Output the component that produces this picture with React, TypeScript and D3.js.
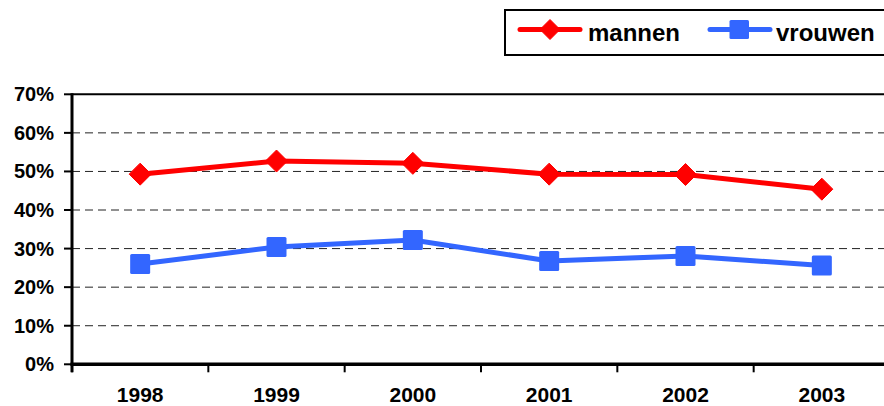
import React from "react";
import * as d3 from "d3";

const years = ["1998", "1999", "2000", "2001", "2002", "2003"];
const mannen = [0.493, 0.527, 0.521, 0.493, 0.492, 0.454];
const vrouwen = [0.26, 0.304, 0.322, 0.268, 0.281, 0.256];
const yTicks = [0, 0.1, 0.2, 0.3, 0.4, 0.5, 0.6, 0.7];
const seriesNames = ["mannen", "vrouwen"];

const W = 884;
const H = 406;
const left = 72;
const right = 890;
const top = 94.3;
const bottom = 364.3;
const RED = "#FF0000";
const BLUE = "#3366FF";
const FONT = "'Liberation Sans', Arial, sans-serif";

export default function App() {
  const x = d3.scaleBand<string>().domain(years).range([left, right]).paddingInner(0).paddingOuter(0);
  const cx = (d: string) => (x(d) as number) + x.bandwidth() / 2;
  const y = d3.scaleLinear().domain([0, 0.7]).range([bottom, top]);
  const line = d3
    .line<number>()
    .x((_, i) => cx(years[i]))
    .y((v) => y(v));

  const boundaries = [...years.map((d) => x(d) as number), right];

  const diamond = (px: number, py: number, r: number) =>
    `M${px},${py - r}L${px + r},${py}L${px},${py + r}L${px - r},${py}Z`;

  return (
    <svg
      width={W}
      height={H}
      style={{ position: "absolute", left: 0, top: 0, background: "#fff" }}
      fontFamily={FONT}
    >
      <rect x={0} y={0} width={W} height={H} fill="#fff" />
      {yTicks.slice(1, -1).map((t) => (
        <line
          key={t}
          x1={left}
          x2={W}
          y1={y(t)}
          y2={y(t)}
          stroke="#222"
          strokeWidth={1}
          strokeDasharray="8,5"
        />
      ))}
      <line x1={left} x2={W} y1={y(0.7)} y2={y(0.7)} stroke="#000" strokeWidth={2} />
      <line x1={left} x2={left} y1={y(0.7) - 1} y2={bottom + 8} stroke="#000" strokeWidth={3} />
      {yTicks.map((t) => (
        <g key={t}>
          <line x1={left - 8} x2={left} y1={y(t)} y2={y(t)} stroke="#000" strokeWidth={2} />
          <text
            x={54}
            y={y(t)}
            textAnchor="end"
            dominantBaseline="central"
            fontSize={20}
            fontWeight="bold"
            fill="#000"
          >
            {Math.round(t * 100)}%
          </text>
        </g>
      ))}
      <line x1={left - 1.5} x2={W} y1={bottom} y2={bottom} stroke="#000" strokeWidth={3.5} />
      {boundaries.map((b, i) => (
        <line key={i} x1={b} x2={b} y1={bottom} y2={bottom + 8} stroke="#000" strokeWidth={2} />
      ))}
      {years.map((d) => (
        <text
          key={d}
          x={cx(d)}
          y={402}
          textAnchor="middle"
          fontSize={21}
          fontWeight="bold"
          fill="#000"
        >
          {d}
        </text>
      ))}
      <path d={line(vrouwen) || ""} fill="none" stroke={BLUE} strokeWidth={5} />
      {vrouwen.map((v, i) => (
        <rect
          key={i}
          x={cx(years[i]) - 10}
          y={y(v) - 10}
          width={20}
          height={20}
          rx={1.5}
          fill={BLUE}
        />
      ))}
      <path d={line(mannen) || ""} fill="none" stroke={RED} strokeWidth={5} />
      {mannen.map((v, i) => (
        <path key={i} d={diamond(cx(years[i]), y(v), 11)} fill={RED} stroke={RED} strokeWidth={1} strokeLinejoin="round" />
      ))}
      <rect x={505} y={10} width={420} height={45} fill="#fff" stroke="#000" strokeWidth={2} />
      <line x1={520} x2={580} y1={29.5} y2={29.5} stroke={RED} strokeWidth={5} strokeLinecap="round" />
      <path d={diamond(550, 29.5, 10)} fill={RED} stroke={RED} strokeWidth={1} strokeLinejoin="round" />
      <text x={588} y={41} fontSize={24} fontWeight="bold" fill="#000">
        {seriesNames[0]}
      </text>
      <line x1={710} x2={770} y1={29.5} y2={29.5} stroke={BLUE} strokeWidth={5} strokeLinecap="round" />
      <rect x={729.5} y={20} width={19.5} height={19} rx={1.5} fill={BLUE} />
      <text x={776} y={41} fontSize={24} fontWeight="bold" fill="#000">
        {seriesNames[1]}
      </text>
    </svg>
  );
}
